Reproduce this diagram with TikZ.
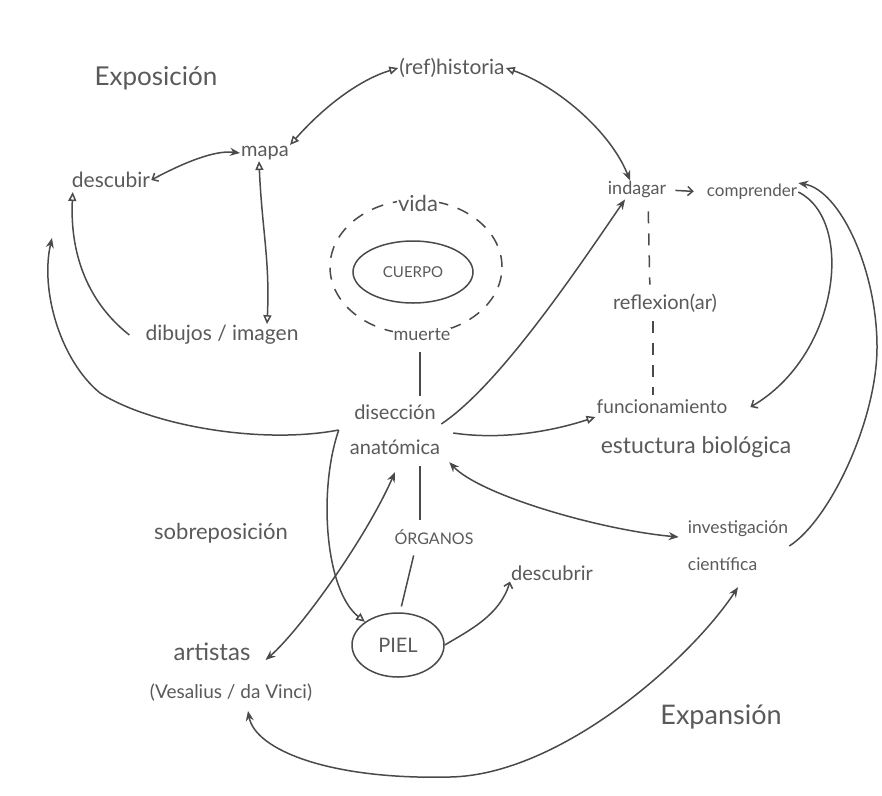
\documentclass[tikz,border=0pt]{standalone}
\usepackage{fontspec}
\setmainfont{Lato}
\usetikzlibrary{arrows.meta,shapes.geometric}
\definecolor{ink}{HTML}{4A4A4A}
\definecolor{txt}{HTML}{5A5A5A}
\newcommand{\fsz}[1]{\fontsize{#1}{#1}\selectfont}
\tikzset{
  Fa/.tip={Stealth[length=10pt,width=8pt]},
  Oa/.tip={Triangle[open,length=9pt,width=8pt]},
  Ba/.tip={Straight Barb[length=5pt,width=9pt]},
}
\begin{document}
\begin{tikzpicture}[x=1pt,y=-1pt,
  lbl/.style={text=txt,inner sep=1pt,font=\fsz{20}},
  con/.style={draw=ink,line width=1.5pt},
  ring/.style={draw=ink,line width=1.5pt,ellipse,inner sep=0pt}]
\fill[white] (0,0) rectangle (882,795);
\useasboundingbox (0,0) rectangle (882,795);

% nodes
\node[lbl,font=\fsz{26}] (expo) at (156,78) {Exposición};
\node[lbl,font=\fsz{21}] (hist) at (452,68) {(ref)historia};
\node[lbl] (mapa) at (265,153) {mapa};
\node[lbl,font=\fsz{21}] (desc1) at (111,180) {descubir};
\node[ring,dashed,dash pattern=on 12pt off 10pt,minimum width=172pt,minimum height=134pt] (vring) at (416,267) {};
\node[lbl,fill=white,font=\fsz{22}] (vida) at (418,203) {vida};
\node[ring,text=txt,font=\fsz{15},minimum width=120pt,minimum height=62pt] (cuerpo) at (413,272) {CUERPO};
\node[lbl,fill=white,font=\fsz{18}] (muerte) at (422,335) {muerte};
\node[lbl,align=center,font=\fontsize{20}{35}\selectfont] (dis) at (395,430) {disección\\anatómica};
\node[lbl,font=\fsz{21}] (dibujos) at (222,335) {dibujos / imagen};
\node[lbl,font=\fsz{18}] (indagar) at (637,190) {indagar};
\node[lbl,font=\fsz{17}] (comprender) at (752,192) {comprender};
\node[lbl] (reflex) at (665,303) {reflexion(ar)};
\node[lbl,font=\fsz{19}] (f1) at (662,407) {funcionamiento};
\node[lbl,font=\fsz{23}] (f2) at (696,447) {estuctura biológica};
\node[lbl,font=\fsz{16}] (org) at (434,537) {ÓRGANOS};
\node[ring,text=txt,font=\fsz{20},minimum width=92pt,minimum height=64pt] (piel) at (398,645) {PIEL};
\node[lbl] (desc2) at (552,573) {descubrir};
\node[lbl,align=left,font=\fontsize{17.5}{37}\selectfont] (inv) at (738,546) {investigación\\científica};
\node[lbl,font=\fsz{24}] (art) at (212,652) {artistas};
\node[lbl,font=\fsz{19}] (vesal) at (231,693) {(Vesalius / da Vinci)};
\node[lbl,font=\fsz{22}] (sobre) at (221,533) {sobreposición};
\node[lbl,font=\fsz{27}] (expan) at (721,717) {Expansión};
\coordinate (lt) at (52,238);

% connectors
\draw[con,Oa-Oa] (mapa.north east) .. controls (330,100) and (365,78) .. (hist.west);
\draw[con,Ba-Fa] (desc1.east) .. controls (185,162) and (215,150) .. (mapa.west);
\draw[con,Oa-Oa] ([xshift=-6pt]mapa.south) .. controls (262,230) and (270,260) .. ([xshift=45pt]dibujos.north);
\draw[con,-Oa] ([xshift=-15pt]dibujos.west) .. controls (85,300) and (70,250) .. ([xshift=2pt,yshift=-3pt]desc1.south west);
\draw[con,-Fa] ([xshift=-10pt]dis.west) .. controls (260,445) and (150,425) .. (100,393) .. controls (60,360) and (40,290) .. (lt);
\draw[con,Oa-Fa] (hist.east) .. controls (555,85) and (610,130) .. ([xshift=-7pt]indagar.north);
\draw[con,-Fa] ([yshift=6pt]dis.east) .. controls (500,385) and (580,265) .. ([xshift=-12pt]indagar.south);
\draw[con,-Oa] ([xshift=12pt,yshift=-3pt]dis.east) .. controls (500,440) and (550,432) .. ([yshift=-10pt]f1.west);
\draw[con,-Ba] (comprender.east) .. controls (855,220) and (840,355) .. ([xshift=22pt]f1.east);
\draw[con,-Fa] (inv.east) .. controls (830,520) and (877,420) .. (877,347) .. controls (877,270) and (840,190) .. (comprender.north east);
\draw[con,Fa-Fa] ([xshift=8pt,yshift=-6pt]dis.south east) .. controls (480,495) and (600,530) .. ([xshift=-8pt,yshift=9pt]inv.west);
\draw[con,-Oa] ([xshift=-10pt]dis.west) .. controls (318,490) and (325,590) .. (piel.145);
\draw[con,Fa-Fa] ([xshift=14pt,yshift=-8pt]art.east) .. controls (300,630) and (365,540) .. ([yshift=-16pt]dis.south);
\draw[con,Fa-Fa] ([yshift=-15pt]inv.south) .. controls (690,660) and (560,775) .. (450,777) .. controls (330,780) and (255,750) .. ([xshift=17pt,yshift=-8pt]vesal.south);
\draw[con,-Ba] (piel.east) .. controls (470,630) and (500,615) .. (desc2.south west);
\draw[con,shorten <=10pt,shorten >=8pt] ([xshift=-2pt]muerte.south) -- ([xshift=25pt]dis.north);
\draw[con,shorten <=10pt,shorten >=8pt] ([xshift=25pt]dis.south) -- ([xshift=-14pt]org.north);
\draw[con,shorten <=10pt,shorten >=6pt] ([xshift=-18pt]org.south) -- ([xshift=2pt]piel.north);
\draw[con,dashed,dash pattern=on 12pt off 10pt,shorten <=12pt,shorten >=8pt] ([xshift=11pt]indagar.south) -- ([xshift=-15pt]reflex.north);
\draw[con,dashed,dash pattern=on 12pt off 10pt,shorten <=8pt,shorten >=4pt] ([xshift=-12pt]reflex.south) -- ([xshift=-9pt]f1.north);
\draw[con,-Ba,shorten <=8pt,shorten >=12pt] (indagar.east) -- (comprender.west);
\end{tikzpicture}
\end{document}
